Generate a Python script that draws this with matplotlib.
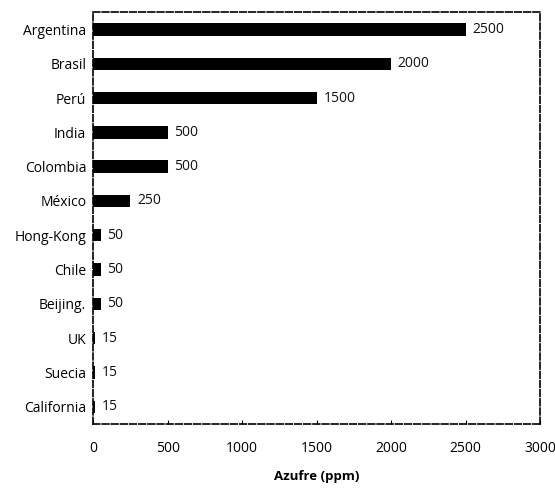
import matplotlib
matplotlib.use("Agg")
import matplotlib.pyplot as plt

# Sulfur content of diesel fuel by country/region
countries = ["Argentina", "Brasil", "Perú", "India", "Colombia", "México",
             "Hong-Kong", "Chile", "Beijing.", "UK", "Suecia", "California"]
sulfur_ppm = [2500, 2000, 1500, 500, 500, 250, 50, 50, 50, 15, 15, 15]
x_ticks = [0, 500, 1000, 1500, 2000, 2500, 3000]

plt.rcParams['font.family'] = ['Open Sans', 'DejaVu Sans']

fig = plt.figure(figsize=(5.55, 4.88), dpi=100)
ax = fig.add_axes([0.168, 0.131, 0.805, 0.844])

ypos = list(range(len(countries)))
ax.barh(ypos, sulfur_ppm, height=0.36, color="black")
for y, v in zip(ypos, sulfur_ppm):
    ax.text(v + 45, y, str(v), va="center", ha="left", fontsize=10, color="#111111")

ax.set_xlim(0, 3000)
ax.set_ylim(len(countries) - 0.5, -0.5)
ax.set_yticks(ypos)
ax.set_yticklabels(countries, fontsize=10)
ax.set_xticks(x_ticks)
ax.set_xticklabels([str(t) for t in x_ticks], fontsize=10)
ax.tick_params(axis="y", length=0, pad=5)
ax.tick_params(axis="x", length=3, direction="in", pad=12)
ax.set_xlabel("Azufre (ppm)", fontsize=9.5, fontweight="bold", labelpad=10)

for s in ax.spines.values():
    s.set_linewidth(1.2)
    s.set_color("black")
    s.set_linestyle((0, (4, 1.5)))

fig.savefig("out.png", dpi=100)
